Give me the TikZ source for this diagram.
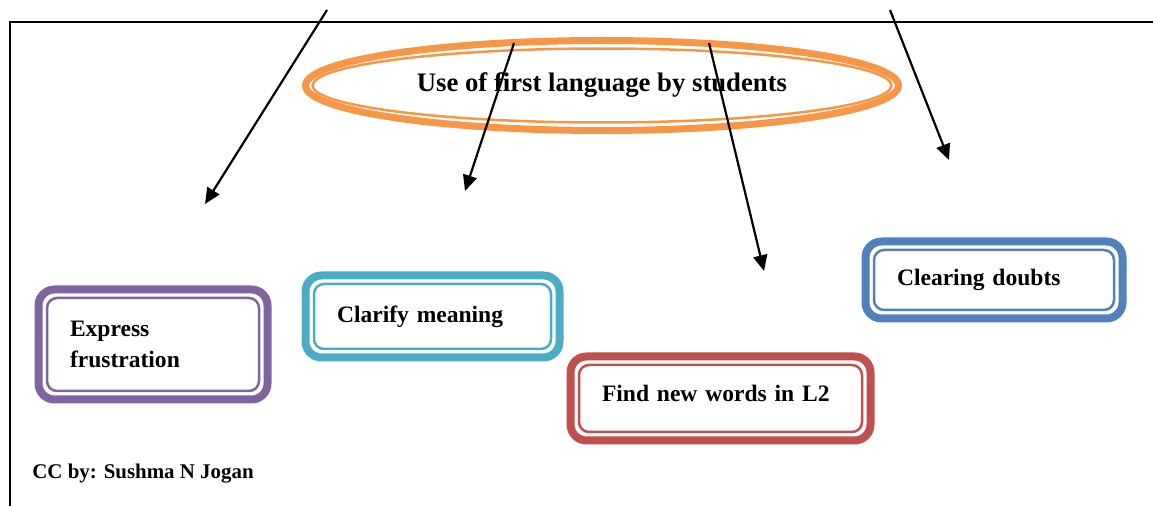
\documentclass[tikz,border=0pt]{standalone}
\usepackage{fontspec}
\setmainfont{Liberation Serif}
\usepackage{tikz}
\usetikzlibrary{shapes.geometric}
\usetikzlibrary{calc}
\usetikzlibrary{arrows.meta}
\newlength\pxu
\setlength\pxu{0.02cm}
\definecolor{ringorange}{HTML}{F79646}
\definecolor{boxpurple}{HTML}{8064A2}
\definecolor{boxaqua}{HTML}{4BACC6}
\definecolor{boxred}{HTML}{C0504D}
\definecolor{boxblue}{HTML}{4F81BD}
\tikzset{
	idea box/.style={
		draw=#1, line width=8\pxu, rounded corners=16\pxu, fill=white,
		inner xsep=31.5\pxu, inner ysep=0pt, outer sep=0pt, align=left,
		font=\fontsize{13.4}{18.1}\selectfont\bfseries
	},
	inner frame/.style={
		draw=#1, line width=2.5\pxu, rounded corners=10\pxu
	},
	use arrow/.style={
		-{Triangle[length=9pt,width=8pt]}, line width=2.2\pxu
	}
}

\begin{document}
\begin{tikzpicture}[x=0.02cm, y=-0.02cm]
	\useasboundingbox (0,0) rectangle (1153,506);
	\draw[line width=2\pxu] (1153,22) -- (10,22) -- (10,506);

	\node[ellipse, draw=ringorange, line width=7\pxu, minimum width=593\pxu, minimum height=90\pxu,
		inner sep=0pt, outer sep=0pt, font=\fontsize{15.2}{18}\selectfont\bfseries] (title) at (602,85.5) {Use of first language by students};
	\draw[ringorange, line width=2.5\pxu] (title.center) ellipse [x radius=5.79cm, y radius=0.74cm];

	\node[idea box=boxpurple, minimum width=229\pxu, minimum height=110\pxu, text width=166\pxu] (express) at (153,344.5) {Express\\frustration};
	\node[idea box=boxaqua, minimum width=254\pxu, minimum height=82\pxu, text width=191\pxu] (clarify) at (432.5,316.5) {Clarify meaning};
	\node[idea box=boxred, minimum width=300\pxu, minimum height=84\pxu, text width=237\pxu, text depth=11\pxu] (findnew) at (720.5,398.5) {Find new words in L2};
	\node[idea box=boxblue, minimum width=257\pxu, minimum height=77\pxu, text width=194\pxu] (clearing) at (994,280) {Clearing doubts};
	\foreach \b/\col in {express/boxpurple, clarify/boxaqua, findnew/boxred, clearing/boxblue}
		\draw[inner frame=\col] ($(\b.south west)+(8.5,-8.5)$) rectangle ($(\b.north east)+(-8.5,8.5)$);

	\coordinate (express-start) at (327,10);
	\coordinate (express-tip) at (205,204);
	\coordinate (clarify-start) at (514,43);
	\coordinate (clarify-tip) at (465,191);
	\coordinate (findnew-start) at (709,43);
	\coordinate (findnew-tip) at (764,271);
	\coordinate (clearing-start) at (890,10);
	\coordinate (clearing-tip) at (949,160);
	\foreach \n in {express, clarify, findnew, clearing}
		\draw[use arrow] (\n-start) -- (\n-tip);

	\node[anchor=west, inner sep=0pt, font=\fontsize{11.9}{14}\selectfont\bfseries] (credit) at (32,474) {CC by: Sushma N Jogan};
\end{tikzpicture}
\end{document}
